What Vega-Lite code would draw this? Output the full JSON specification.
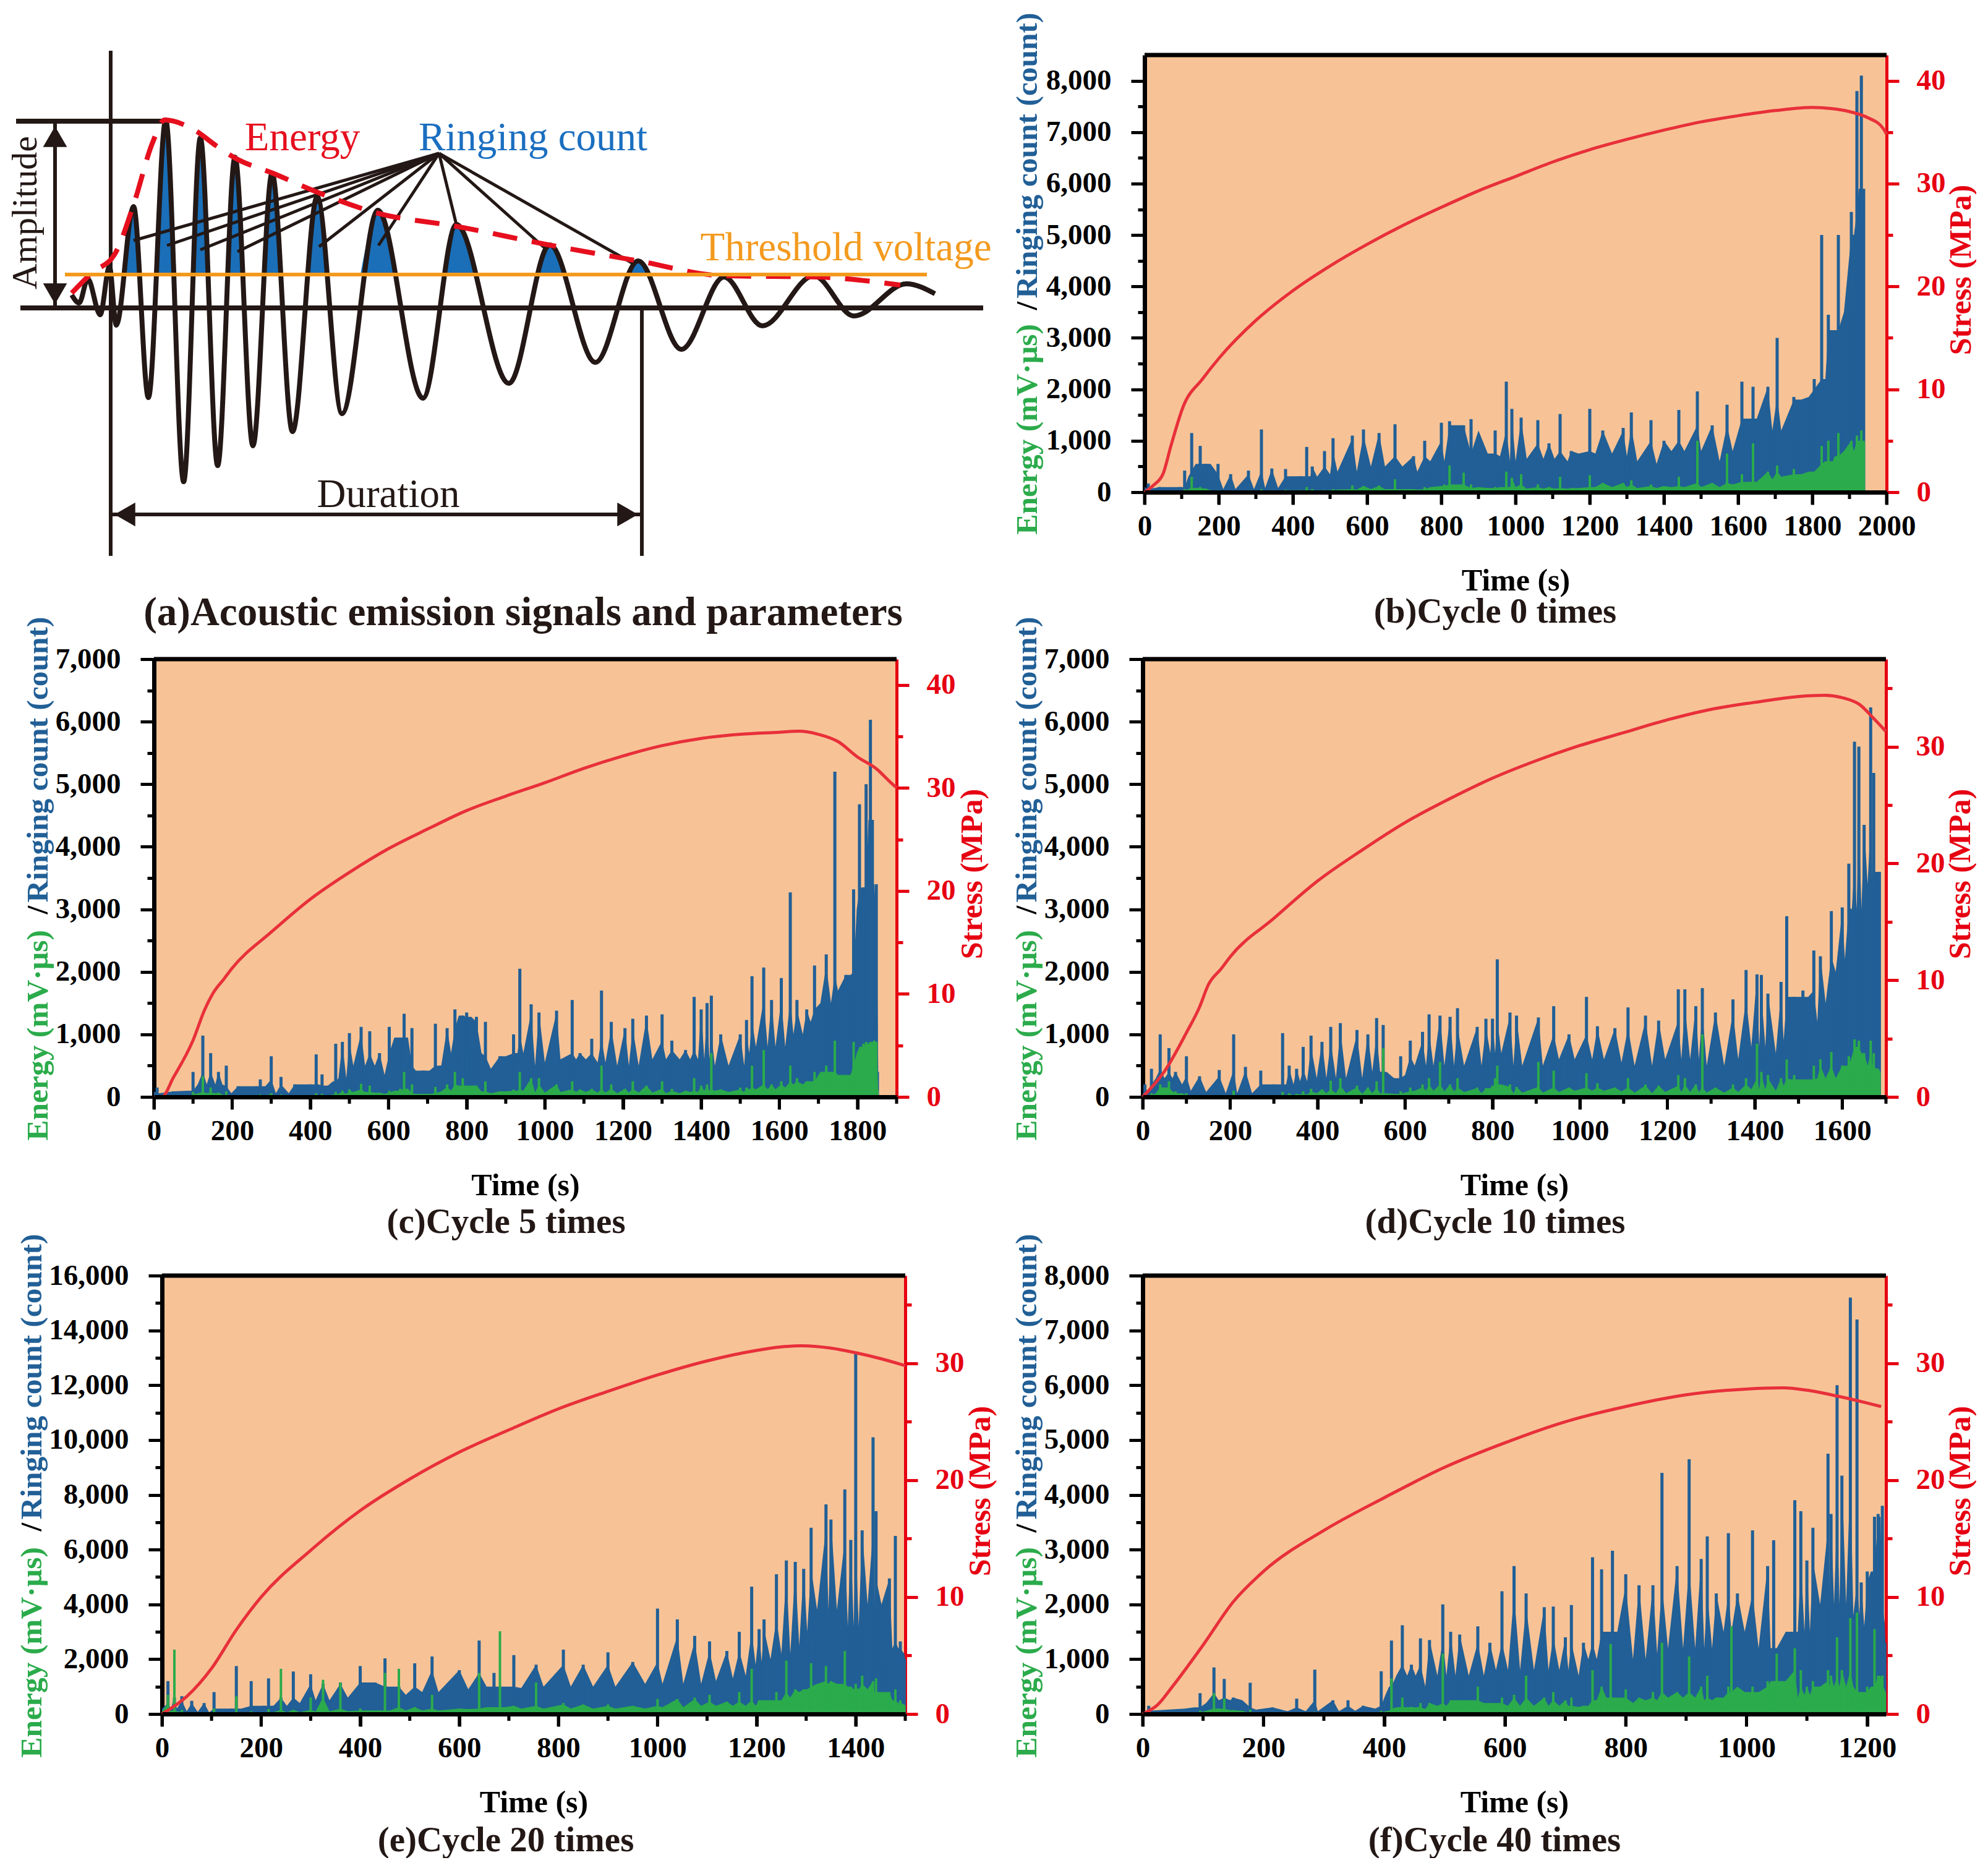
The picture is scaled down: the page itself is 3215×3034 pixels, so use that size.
{
"$schema":"https://vega.github.io/schema/vega-lite/v6.json",
"background":"white",
"padding":{"left":12,"top":19,"right":0,"bottom":0},
"config":{
"view":{"stroke":null},
"font":"Liberation Serif",
"title":{"font":"Liberation Serif","fontWeight":"bold","fontSize":57,"color":"#231815","anchor":"middle","baseline":"top"},
"axis":{"grid":false,"labelFont":"Liberation Serif","titleFont":"Liberation Serif","labelFontWeight":"bold","titleFontWeight":"bold","labelFontSize":47,"titleFontSize":49.5,"labelOverlap":false,"labelFlush":false,"labelBound":false,"labelColor":"#000000","titleColor":"#000000","domainColor":"#000000","tickColor":"#000000","domainWidth":7,"tickWidth":5},
"axisBottom":{"labelPadding":12,"titlePadding":40,"titleFontSize":50},
"axisLeft":{"labelPadding":32},
"axisRight":{"labelPadding":28,"labelColor":"#e60012","titleColor":"#e60012","domainColor":"#e60012","tickColor":"#e60012","domainWidth":5,"titleFontSize":50}
},
"datasets":{
"sig":[{"x":117,"y":478},{"x":129,"y":491},{"x":143,"y":452},{"x":163,"y":510},{"x":178,"y":432},{"x":189,"y":527},{"x":217,"y":335},{"x":241,"y":644},{"x":269,"y":195},{"x":298,"y":780},{"x":325,"y":224},{"x":353,"y":754},{"x":381,"y":255},{"x":410,"y":722},{"x":441,"y":281},{"x":474,"y":699},{"x":514,"y":319},{"x":554,"y":670},{"x":612,"y":341},{"x":685,"y":645},{"x":739,"y":364},{"x":824,"y":621},{"x":890,"y":397},{"x":964,"y":587},{"x":1033,"y":423},{"x":1103,"y":566},{"x":1172,"y":449},{"x":1234,"y":528},{"x":1317,"y":447},{"x":1382,"y":512},{"x":1467,"y":460},{"x":1513,"y":476}],
"env":[{"x":117,"y":475},{"x":150,"y":442},{"x":186,"y":413},{"x":217,"y":332},{"x":248,"y":231},{"x":267,"y":195},{"x":315,"y":211},{"x":351,"y":237},{"x":382,"y":257},{"x":442,"y":281},{"x":517,"y":313},{"x":609,"y":345},{"x":739,"y":367},{"x":888,"y":397},{"x":1033,"y":423},{"x":1172,"y":447},{"x":1322,"y":449},{"x":1457,"y":462}],
"peaks":[{"p":1,"x":201,"y":445},{"p":1,"x":217,"y":340},{"p":1,"x":227,"y":445},{"p":2,"x":256,"y":445},{"p":2,"x":269,"y":200},{"p":2,"x":286,"y":445},{"p":3,"x":315,"y":445},{"p":3,"x":325,"y":228},{"p":3,"x":339,"y":445},{"p":4,"x":370,"y":445},{"p":4,"x":381,"y":258},{"p":4,"x":395,"y":445},{"p":5,"x":430,"y":445},{"p":5,"x":441,"y":285},{"p":5,"x":455,"y":445},{"p":6,"x":501,"y":445},{"p":6,"x":514,"y":322},{"p":6,"x":532,"y":445},{"p":7,"x":584,"y":445},{"p":7,"x":612,"y":345},{"p":7,"x":638,"y":445},{"p":8,"x":718,"y":445},{"p":8,"x":739,"y":368},{"p":8,"x":770,"y":445},{"p":9,"x":868,"y":445},{"p":9,"x":890,"y":400},{"p":9,"x":916,"y":445},{"p":10,"x":1018,"y":445},{"p":10,"x":1033,"y":426},{"p":10,"x":1054,"y":445}],
"frame":[{"x":34,"y":499,"x2":1591,"y2":499},{"x":27,"y":197,"x2":267,"y2":197}],
"guides":[{"x":180,"y":83,"x2":180,"y2":900},{"x":1039,"y":499,"x2":1039,"y2":900},{"x":180,"y":833,"x2":1039,"y2":833},{"x":90,"y":197,"x2":90,"y2":499}],
"hub":[{"x":711,"y":249,"x2":217,"y2":390},{"x":711,"y":249,"x2":271,"y2":398},{"x":711,"y":249,"x2":325,"y2":405},{"x":711,"y":249,"x2":385,"y2":408},{"x":711,"y":249,"x2":517,"y2":400},{"x":711,"y":249,"x2":613,"y2":398},{"x":711,"y":249,"x2":739,"y2":364},{"x":711,"y":249,"x2":883,"y2":403},{"x":711,"y":249,"x2":1028,"y2":429}],
"heads":[{"x":90,"y":222,"d":"up"},{"x":90,"y":476,"d":"down"},{"x":203,"y":833,"d":"left"},{"x":1016,"y":833,"d":"right"}],
"labels":[{"label":"Energy","x":490,"y":224},{"label":"Ringing count","x":863,"y":224},{"label":"Threshold voltage","x":1369,"y":402},{"label":"Duration","x":629,"y":801}],
"major":[{"v":0},{"v":200},{"v":400},{"v":600},{"v":800},{"v":1000},{"v":1200},{"v":1400},{"v":1600},{"v":1800},{"v":2000}],
"minor":[{"v":100},{"v":300},{"v":500},{"v":700},{"v":900},{"v":1100},{"v":1300},{"v":1500},{"v":1700},{"v":1900}],
"b":[{"t":0,"r":0,"e":0},{"t":10,"r":170,"e":10},{"t":40,"r":100,"e":5},{"t":80,"r":20,"e":5},{"t":95,"r":100,"e":30},{"t":108,"r":420,"e":60},{"t":118,"r":60,"e":20},{"t":127,"r":1150,"e":300},{"t":138,"r":300,"e":80},{"t":150,"r":900,"e":100},{"t":165,"r":550,"e":70},{"t":178,"r":60,"e":20},{"t":198,"r":550,"e":40},{"t":212,"r":50,"e":10},{"t":232,"r":350,"e":30},{"t":245,"r":60,"e":10},{"t":280,"r":420,"e":40},{"t":295,"r":60,"e":10},{"t":315,"r":1220,"e":60},{"t":325,"r":30,"e":10},{"t":343,"r":460,"e":40},{"t":360,"r":80,"e":15},{"t":380,"r":450,"e":50},{"t":395,"r":50,"e":10},{"t":420,"r":310,"e":40},{"t":437,"r":880,"e":100},{"t":447,"r":200,"e":40},{"t":452,"r":500,"e":60},{"t":465,"r":150,"e":20},{"t":485,"r":800,"e":40},{"t":500,"r":300,"e":40},{"t":508,"r":1050,"e":60},{"t":520,"r":350,"e":40},{"t":560,"r":1100,"e":130},{"t":572,"r":400,"e":50},{"t":590,"r":1220,"e":120},{"t":610,"r":350,"e":50},{"t":632,"r":1150,"e":130},{"t":648,"r":500,"e":60},{"t":675,"r":1320,"e":250},{"t":695,"r":250,"e":40},{"t":725,"r":700,"e":60},{"t":735,"r":250,"e":40},{"t":755,"r":1000,"e":100},{"t":770,"r":400,"e":50},{"t":800,"r":1350,"e":120},{"t":808,"r":600,"e":150},{"t":822,"r":1380,"e":520},{"t":838,"r":500,"e":80},{"t":860,"r":1300,"e":380},{"t":880,"r":1420,"e":150},{"t":900,"r":750,"e":80},{"t":925,"r":700,"e":80},{"t":945,"r":1200,"e":100},{"t":958,"r":500,"e":60},{"t":975,"r":2150,"e":400},{"t":985,"r":600,"e":100},{"t":990,"r":1620,"e":280},{"t":1000,"r":600,"e":70},{"t":1015,"r":1450,"e":350},{"t":1030,"r":500,"e":50},{"t":1060,"r":1400,"e":150},{"t":1075,"r":650,"e":70},{"t":1090,"r":950,"e":100},{"t":1105,"r":550,"e":70},{"t":1120,"r":1520,"e":300},{"t":1140,"r":600,"e":60},{"t":1150,"r":800,"e":80},{"t":1170,"r":500,"e":50},{"t":1200,"r":1620,"e":330},{"t":1215,"r":750,"e":100},{"t":1235,"r":1200,"e":180},{"t":1260,"r":700,"e":100},{"t":1290,"r":1250,"e":180},{"t":1300,"r":600,"e":80},{"t":1312,"r":1550,"e":230},{"t":1328,"r":450,"e":70},{"t":1365,"r":1400,"e":150},{"t":1380,"r":550,"e":80},{"t":1400,"r":1000,"e":120},{"t":1420,"r":500,"e":70},{"t":1440,"r":1600,"e":300},{"t":1455,"r":800,"e":100},{"t":1490,"r":1960,"e":1000},{"t":1500,"r":600,"e":100},{"t":1530,"r":1300,"e":180},{"t":1550,"r":550,"e":80},{"t":1570,"r":1700,"e":750},{"t":1585,"r":600,"e":100},{"t":1610,"r":2150,"e":350},{"t":1620,"r":800,"e":150},{"t":1630,"r":1430,"e":200},{"t":1640,"r":2050,"e":950},{"t":1650,"r":800,"e":200},{"t":1680,"r":2050,"e":400},{"t":1692,"r":1200,"e":200},{"t":1705,"r":3000,"e":520},{"t":1716,"r":1100,"e":250},{"t":1750,"r":1850,"e":450},{"t":1770,"r":1000,"e":300},{"t":1790,"r":1800,"e":350},{"t":1805,"r":2200,"e":400},{"t":1825,"r":5000,"e":900},{"t":1835,"r":2000,"e":550},{"t":1843,"r":3450,"e":1000},{"t":1855,"r":2000,"e":600},{"t":1860,"r":3150,"e":450},{"t":1870,"r":5000,"e":1150},{"t":1885,"r":2400,"e":700},{"t":1905,"r":5450,"e":1000},{"t":1912,"r":3500,"e":800},{"t":1920,"r":7800,"e":1100},{"t":1925,"r":5000,"e":700},{"t":1932,"r":8100,"e":1200},{"t":1938,"r":5900,"e":1000},{"t":1942,"r":0,"e":0}],
"c":[{"t":0,"r":0,"e":0},{"t":8,"r":150,"e":5},{"t":50,"r":90,"e":5},{"t":85,"r":20,"e":5},{"t":100,"r":400,"e":80},{"t":112,"r":100,"e":40},{"t":125,"r":980,"e":330},{"t":135,"r":200,"e":60},{"t":145,"r":700,"e":150},{"t":157,"r":200,"e":40},{"t":165,"r":400,"e":70},{"t":175,"r":60,"e":20},{"t":185,"r":500,"e":90},{"t":198,"r":60,"e":15},{"t":215,"r":170,"e":25},{"t":240,"r":40,"e":10},{"t":262,"r":170,"e":30},{"t":272,"r":280,"e":40},{"t":285,"r":60,"e":10},{"t":300,"r":650,"e":60},{"t":312,"r":50,"e":10},{"t":325,"r":320,"e":40},{"t":345,"r":60,"e":10},{"t":360,"r":200,"e":20},{"t":380,"r":50,"e":10},{"t":400,"r":200,"e":25},{"t":415,"r":680,"e":60},{"t":422,"r":100,"e":20},{"t":430,"r":360,"e":50},{"t":445,"r":180,"e":20},{"t":458,"r":100,"e":20},{"t":465,"r":850,"e":80},{"t":472,"r":250,"e":40},{"t":482,"r":880,"e":100},{"t":492,"r":300,"e":50},{"t":500,"r":1020,"e":120},{"t":510,"r":300,"e":50},{"t":530,"r":1120,"e":210},{"t":540,"r":500,"e":80},{"t":552,"r":1050,"e":180},{"t":565,"r":350,"e":40},{"t":577,"r":700,"e":70},{"t":590,"r":200,"e":40},{"t":602,"r":1120,"e":100},{"t":615,"r":250,"e":50},{"t":630,"r":950,"e":130},{"t":640,"r":1330,"e":400},{"t":650,"r":500,"e":60},{"t":660,"r":1100,"e":200},{"t":670,"r":200,"e":30},{"t":690,"r":420,"e":50},{"t":705,"r":300,"e":50},{"t":720,"r":1170,"e":160},{"t":735,"r":500,"e":60},{"t":750,"r":1100,"e":200},{"t":760,"r":500,"e":90},{"t":770,"r":1400,"e":400},{"t":780,"r":700,"e":100},{"t":790,"r":1300,"e":300},{"t":800,"r":1350,"e":180},{"t":812,"r":700,"e":90},{"t":825,"r":1280,"e":180},{"t":838,"r":450,"e":60},{"t":848,"r":1200,"e":250},{"t":862,"r":450,"e":60},{"t":885,"r":650,"e":90},{"t":900,"r":400,"e":60},{"t":920,"r":1000,"e":120},{"t":930,"r":700,"e":100},{"t":936,"r":2050,"e":400},{"t":945,"r":500,"e":60},{"t":965,"r":1480,"e":300},{"t":975,"r":450,"e":60},{"t":985,"r":1350,"e":300},{"t":1000,"r":500,"e":70},{"t":1030,"r":1380,"e":200},{"t":1040,"r":550,"e":70},{"t":1070,"r":1550,"e":250},{"t":1080,"r":600,"e":80},{"t":1090,"r":700,"e":120},{"t":1105,"r":350,"e":50},{"t":1120,"r":930,"e":130},{"t":1135,"r":550,"e":70},{"t":1145,"r":1700,"e":500},{"t":1155,"r":500,"e":60},{"t":1170,"r":1200,"e":200},{"t":1185,"r":450,"e":50},{"t":1205,"r":1100,"e":130},{"t":1215,"r":450,"e":50},{"t":1225,"r":1250,"e":250},{"t":1240,"r":500,"e":70},{"t":1260,"r":1300,"e":180},{"t":1275,"r":300,"e":50},{"t":1300,"r":1320,"e":250},{"t":1310,"r":600,"e":60},{"t":1325,"r":900,"e":130},{"t":1345,"r":450,"e":60},{"t":1360,"r":750,"e":100},{"t":1372,"r":500,"e":60},{"t":1382,"r":1600,"e":300},{"t":1392,"r":600,"e":80},{"t":1400,"r":1400,"e":180},{"t":1408,"r":600,"e":80},{"t":1415,"r":1500,"e":200},{"t":1421,"r":500,"e":100},{"t":1426,"r":1620,"e":700},{"t":1435,"r":500,"e":70},{"t":1450,"r":1000,"e":120},{"t":1470,"r":400,"e":60},{"t":1500,"r":1000,"e":150},{"t":1510,"r":500,"e":80},{"t":1516,"r":1230,"e":150},{"t":1523,"r":500,"e":70},{"t":1530,"r":1930,"e":500},{"t":1540,"r":700,"e":120},{"t":1560,"r":2070,"e":750},{"t":1570,"r":800,"e":120},{"t":1580,"r":1550,"e":200},{"t":1590,"r":700,"e":100},{"t":1605,"r":1900,"e":250},{"t":1615,"r":700,"e":100},{"t":1628,"r":3270,"e":500},{"t":1636,"r":800,"e":150},{"t":1645,"r":1550,"e":300},{"t":1660,"r":1000,"e":200},{"t":1670,"r":1400,"e":250},{"t":1680,"r":1000,"e":200},{"t":1690,"r":2100,"e":400},{"t":1705,"r":1200,"e":250},{"t":1720,"r":2280,"e":500},{"t":1732,"r":1500,"e":400},{"t":1742,"r":5200,"e":900},{"t":1750,"r":1300,"e":300},{"t":1770,"r":1950,"e":350},{"t":1782,"r":1700,"e":300},{"t":1790,"r":3320,"e":880},{"t":1798,"r":2000,"e":500},{"t":1805,"r":4680,"e":700},{"t":1811,"r":3000,"e":800},{"t":1815,"r":3350,"e":850},{"t":1822,"r":5000,"e":880},{"t":1828,"r":3000,"e":700},{"t":1833,"r":6030,"e":880},{"t":1838,"r":4430,"e":850},{"t":1843,"r":2800,"e":900},{"t":1848,"r":3400,"e":880},{"t":1851,"r":400,"e":100},{"t":1853,"r":0,"e":0}],
"d":[{"t":0,"r":0,"e":0},{"t":5,"r":200,"e":30},{"t":12,"r":50,"e":10},{"t":20,"r":450,"e":60},{"t":30,"r":100,"e":20},{"t":40,"r":1000,"e":200},{"t":50,"r":300,"e":150},{"t":60,"r":780,"e":250},{"t":68,"r":200,"e":60},{"t":75,"r":400,"e":90},{"t":90,"r":100,"e":30},{"t":100,"r":650,"e":60},{"t":110,"r":80,"e":20},{"t":130,"r":330,"e":30},{"t":145,"r":50,"e":10},{"t":175,"r":430,"e":30},{"t":190,"r":40,"e":10},{"t":208,"r":1000,"e":100},{"t":216,"r":60,"e":15},{"t":235,"r":480,"e":30},{"t":250,"r":60,"e":10},{"t":270,"r":420,"e":30},{"t":285,"r":40,"e":10},{"t":300,"r":200,"e":20},{"t":320,"r":1020,"e":80},{"t":328,"r":150,"e":30},{"t":335,"r":500,"e":60},{"t":345,"r":120,"e":20},{"t":352,"r":450,"e":50},{"t":360,"r":200,"e":30},{"t":367,"r":800,"e":90},{"t":376,"r":250,"e":40},{"t":385,"r":980,"e":130},{"t":398,"r":250,"e":40},{"t":410,"r":880,"e":120},{"t":420,"r":300,"e":60},{"t":430,"r":1120,"e":260},{"t":442,"r":300,"e":60},{"t":452,"r":1180,"e":300},{"t":465,"r":200,"e":40},{"t":490,"r":1070,"e":180},{"t":502,"r":300,"e":50},{"t":515,"r":1000,"e":150},{"t":525,"r":300,"e":50},{"t":535,"r":1260,"e":250},{"t":543,"r":400,"e":60},{"t":550,"r":1150,"e":780},{"t":558,"r":100,"e":30},{"t":575,"r":300,"e":50},{"t":590,"r":650,"e":90},{"t":600,"r":200,"e":40},{"t":612,"r":900,"e":150},{"t":622,"r":350,"e":70},{"t":640,"r":1040,"e":200},{"t":648,"r":500,"e":100},{"t":655,"r":1320,"e":300},{"t":665,"r":400,"e":80},{"t":680,"r":1300,"e":560},{"t":690,"r":500,"e":90},{"t":703,"r":1280,"e":200},{"t":712,"r":500,"e":80},{"t":720,"r":1420,"e":300},{"t":735,"r":400,"e":60},{"t":765,"r":1120,"e":150},{"t":775,"r":400,"e":60},{"t":785,"r":1250,"e":140},{"t":795,"r":500,"e":60},{"t":800,"r":1250,"e":180},{"t":806,"r":700,"e":300},{"t":811,"r":2200,"e":500},{"t":820,"r":400,"e":60},{"t":840,"r":1350,"e":200},{"t":848,"r":500,"e":60},{"t":855,"r":1300,"e":160},{"t":868,"r":450,"e":50},{"t":905,"r":1270,"e":560},{"t":915,"r":500,"e":70},{"t":940,"r":1450,"e":420},{"t":952,"r":500,"e":60},{"t":975,"r":1000,"e":150},{"t":988,"r":600,"e":80},{"t":1015,"r":1600,"e":380},{"t":1028,"r":600,"e":100},{"t":1040,"r":1130,"e":220},{"t":1055,"r":550,"e":90},{"t":1080,"r":1100,"e":150},{"t":1095,"r":500,"e":70},{"t":1110,"r":1430,"e":300},{"t":1125,"r":500,"e":60},{"t":1150,"r":1300,"e":200},{"t":1165,"r":450,"e":50},{"t":1180,"r":1220,"e":180},{"t":1195,"r":500,"e":60},{"t":1225,"r":1720,"e":350},{"t":1232,"r":600,"e":80},{"t":1240,"r":1720,"e":300},{"t":1252,"r":600,"e":80},{"t":1265,"r":1450,"e":200},{"t":1272,"r":500,"e":70},{"t":1280,"r":1740,"e":1000},{"t":1290,"r":350,"e":60},{"t":1310,"r":1350,"e":150},{"t":1330,"r":450,"e":60},{"t":1350,"r":1560,"e":200},{"t":1362,"r":500,"e":70},{"t":1380,"r":2030,"e":300},{"t":1392,"r":600,"e":80},{"t":1405,"r":1960,"e":850},{"t":1410,"r":800,"e":120},{"t":1415,"r":1950,"e":400},{"t":1424,"r":700,"e":100},{"t":1430,"r":1650,"e":350},{"t":1448,"r":600,"e":100},{"t":1460,"r":1840,"e":300},{"t":1466,"r":500,"e":80},{"t":1473,"r":2890,"e":600},{"t":1482,"r":900,"e":180},{"t":1490,"r":1600,"e":350},{"t":1510,"r":1700,"e":280},{"t":1522,"r":1000,"e":200},{"t":1535,"r":2340,"e":500},{"t":1543,"r":1100,"e":250},{"t":1550,"r":2250,"e":600},{"t":1562,"r":1200,"e":300},{"t":1575,"r":2970,"e":720},{"t":1585,"r":1500,"e":200},{"t":1600,"r":3030,"e":500},{"t":1606,"r":2000,"e":300},{"t":1615,"r":3730,"e":650},{"t":1622,"r":2200,"e":500},{"t":1628,"r":5680,"e":920},{"t":1633,"r":3000,"e":800},{"t":1638,"r":5600,"e":900},{"t":1644,"r":2800,"e":500},{"t":1650,"r":4350,"e":700},{"t":1658,"r":3000,"e":500},{"t":1665,"r":6230,"e":900},{"t":1669,"r":3400,"e":500},{"t":1672,"r":5180,"e":700},{"t":1678,"r":3400,"e":450},{"t":1682,"r":3600,"e":450},{"t":1685,"r":3600,"e":400},{"t":1687,"r":0,"e":0}],
"e":[{"t":0,"r":0,"e":0},{"t":12,"r":1200,"e":700},{"t":18,"r":200,"e":100},{"t":25,"r":600,"e":2350},{"t":30,"r":100,"e":60},{"t":40,"r":650,"e":150},{"t":50,"r":80,"e":30},{"t":60,"r":480,"e":60},{"t":72,"r":60,"e":20},{"t":85,"r":400,"e":50},{"t":95,"r":50,"e":10},{"t":105,"r":800,"e":200},{"t":112,"r":50,"e":10},{"t":140,"r":200,"e":40},{"t":150,"r":1750,"e":650},{"t":160,"r":80,"e":20},{"t":180,"r":1200,"e":100},{"t":190,"r":60,"e":20},{"t":205,"r":300,"e":70},{"t":215,"r":1300,"e":180},{"t":225,"r":300,"e":60},{"t":240,"r":600,"e":1650},{"t":252,"r":300,"e":60},{"t":265,"r":1550,"e":150},{"t":278,"r":250,"e":50},{"t":300,"r":1450,"e":600},{"t":310,"r":400,"e":70},{"t":325,"r":1100,"e":1250},{"t":338,"r":500,"e":90},{"t":360,"r":1150,"e":1150},{"t":375,"r":500,"e":100},{"t":400,"r":1750,"e":200},{"t":412,"r":600,"e":100},{"t":430,"r":1150,"e":130},{"t":450,"r":2030,"e":1500},{"t":460,"r":500,"e":100},{"t":478,"r":1000,"e":1650},{"t":492,"r":600,"e":130},{"t":510,"r":1850,"e":250},{"t":525,"r":700,"e":130},{"t":545,"r":2100,"e":700},{"t":558,"r":800,"e":130},{"t":600,"r":1600,"e":200},{"t":618,"r":800,"e":130},{"t":640,"r":2680,"e":1500},{"t":655,"r":900,"e":180},{"t":670,"r":1500,"e":250},{"t":682,"r":1000,"e":3020},{"t":692,"r":500,"e":130},{"t":710,"r":2150,"e":300},{"t":725,"r":950,"e":200},{"t":755,"r":1800,"e":1150},{"t":770,"r":950,"e":180},{"t":810,"r":2350,"e":400},{"t":825,"r":1000,"e":200},{"t":850,"r":1800,"e":350},{"t":870,"r":900,"e":200},{"t":900,"r":2250,"e":350},{"t":915,"r":1000,"e":180},{"t":950,"r":1900,"e":300},{"t":975,"r":1000,"e":200},{"t":1000,"r":3850,"e":550},{"t":1010,"r":1100,"e":200},{"t":1040,"r":3450,"e":550},{"t":1052,"r":1100,"e":250},{"t":1075,"r":2850,"e":600},{"t":1088,"r":1100,"e":250},{"t":1105,"r":2650,"e":700},{"t":1118,"r":1100,"e":300},{"t":1140,"r":2300,"e":450},{"t":1152,"r":1200,"e":300},{"t":1165,"r":3000,"e":800},{"t":1178,"r":1300,"e":250},{"t":1190,"r":4650,"e":1650},{"t":1198,"r":1400,"e":300},{"t":1205,"r":3100,"e":500},{"t":1210,"r":1800,"e":300},{"t":1215,"r":3450,"e":500},{"t":1228,"r":1900,"e":500},{"t":1240,"r":5100,"e":800},{"t":1250,"r":2000,"e":500},{"t":1260,"r":5600,"e":1950},{"t":1268,"r":2200,"e":500},{"t":1278,"r":5550,"e":900},{"t":1286,"r":2200,"e":600},{"t":1295,"r":5300,"e":900},{"t":1302,"r":2500,"e":800},{"t":1310,"r":6800,"e":1850},{"t":1322,"r":3000,"e":1000},{"t":1340,"r":7650,"e":1750},{"t":1345,"r":3800,"e":1100},{"t":1350,"r":7100,"e":1200},{"t":1362,"r":3000,"e":1100},{"t":1378,"r":8200,"e":2300},{"t":1384,"r":3000,"e":900},{"t":1390,"r":6350,"e":1000},{"t":1396,"r":3200,"e":700},{"t":1400,"r":13150,"e":1100},{"t":1406,"r":3000,"e":900},{"t":1413,"r":6700,"e":1400},{"t":1424,"r":2600,"e":700},{"t":1435,"r":10100,"e":1200},{"t":1438,"r":4000,"e":800},{"t":1441,"r":7400,"e":1300},{"t":1452,"r":2000,"e":500},{"t":1468,"r":4950,"e":800},{"t":1474,"r":2000,"e":400},{"t":1480,"r":6500,"e":900},{"t":1486,"r":2400,"e":400},{"t":1490,"r":2650,"e":500},{"t":1498,"r":2000,"e":300},{"t":1500,"r":0,"e":0}],
"f":[{"t":0,"r":0,"e":0},{"t":10,"r":150,"e":5},{"t":70,"r":20,"e":5},{"t":85,"r":100,"e":20},{"t":95,"r":380,"e":60},{"t":105,"r":120,"e":30},{"t":118,"r":850,"e":380},{"t":126,"r":200,"e":100},{"t":135,"r":640,"e":280},{"t":145,"r":250,"e":60},{"t":150,"r":300,"e":70},{"t":165,"r":80,"e":20},{"t":178,"r":570,"e":80},{"t":188,"r":50,"e":10},{"t":215,"r":120,"e":15},{"t":240,"r":50,"e":10},{"t":255,"r":280,"e":25},{"t":270,"r":50,"e":10},{"t":285,"r":810,"e":40},{"t":290,"r":40,"e":10},{"t":315,"r":250,"e":20},{"t":325,"r":50,"e":10},{"t":340,"r":250,"e":20},{"t":352,"r":40,"e":10},{"t":365,"r":150,"e":15},{"t":385,"r":60,"e":10},{"t":395,"r":780,"e":60},{"t":402,"r":100,"e":20},{"t":408,"r":350,"e":50},{"t":412,"r":1340,"e":650},{"t":420,"r":500,"e":100},{"t":430,"r":1620,"e":300},{"t":438,"r":700,"e":120},{"t":445,"r":900,"e":130},{"t":452,"r":400,"e":80},{"t":460,"r":1380,"e":200},{"t":468,"r":500,"e":90},{"t":475,"r":1350,"e":200},{"t":488,"r":400,"e":80},{"t":497,"r":2000,"e":1100},{"t":503,"r":700,"e":150},{"t":510,"r":1500,"e":250},{"t":518,"r":600,"e":120},{"t":525,"r":1450,"e":250},{"t":540,"r":600,"e":250},{"t":555,"r":1600,"e":500},{"t":565,"r":700,"e":200},{"t":575,"r":1300,"e":200},{"t":585,"r":700,"e":120},{"t":595,"r":2240,"e":300},{"t":605,"r":800,"e":150},{"t":615,"r":2700,"e":350},{"t":625,"r":700,"e":120},{"t":635,"r":2200,"e":700},{"t":648,"r":800,"e":150},{"t":665,"r":1950,"e":300},{"t":672,"r":700,"e":120},{"t":680,"r":1960,"e":400},{"t":690,"r":800,"e":150},{"t":700,"r":1400,"e":250},{"t":705,"r":700,"e":130},{"t":710,"r":1990,"e":300},{"t":722,"r":500,"e":100},{"t":730,"r":1300,"e":150},{"t":738,"r":400,"e":100},{"t":745,"r":2860,"e":800},{"t":752,"r":1000,"e":250},{"t":760,"r":2640,"e":500},{"t":768,"r":1000,"e":200},{"t":775,"r":1500,"e":1280},{"t":778,"r":2980,"e":300},{"t":786,"r":900,"e":150},{"t":800,"r":2550,"e":450},{"t":812,"r":1000,"e":200},{"t":822,"r":2350,"e":300},{"t":833,"r":900,"e":200},{"t":845,"r":2350,"e":400},{"t":852,"r":1000,"e":250},{"t":860,"r":4400,"e":1300},{"t":870,"r":1100,"e":250},{"t":885,"r":2700,"e":400},{"t":895,"r":1200,"e":300},{"t":905,"r":4650,"e":1050},{"t":915,"r":1200,"e":250},{"t":925,"r":2830,"e":500},{"t":930,"r":1200,"e":250},{"t":935,"r":3240,"e":700},{"t":943,"r":1200,"e":200},{"t":950,"r":2200,"e":300},{"t":962,"r":1200,"e":250},{"t":970,"r":3300,"e":500},{"t":975,"r":1500,"e":1600},{"t":985,"r":2200,"e":400},{"t":997,"r":1000,"e":200},{"t":1010,"r":3350,"e":500},{"t":1020,"r":1100,"e":250},{"t":1035,"r":2700,"e":600},{"t":1040,"r":1200,"e":400},{"t":1045,"r":3170,"e":600},{"t":1050,"r":1200,"e":1100},{"t":1065,"r":1200,"e":300},{"t":1080,"r":3900,"e":1200},{"t":1085,"r":1500,"e":300},{"t":1090,"r":3700,"e":800},{"t":1096,"r":1500,"e":300},{"t":1100,"r":2800,"e":500},{"t":1105,"r":1400,"e":350},{"t":1110,"r":3400,"e":600},{"t":1122,"r":1300,"e":300},{"t":1135,"r":4750,"e":800},{"t":1138,"r":2000,"e":500},{"t":1140,"r":3650,"e":700},{"t":1145,"r":1500,"e":400},{"t":1150,"r":6000,"e":1400},{"t":1154,"r":2000,"e":500},{"t":1158,"r":4350,"e":800},{"t":1165,"r":1800,"e":500},{"t":1172,"r":7600,"e":1750},{"t":1177,"r":1800,"e":400},{"t":1183,"r":7200,"e":1850},{"t":1187,"r":1600,"e":400},{"t":1190,"r":2400,"e":400},{"t":1195,"r":1300,"e":300},{"t":1200,"r":2600,"e":500},{"t":1206,"r":1500,"e":400},{"t":1212,"r":3600,"e":1550},{"t":1218,"r":3650,"e":700},{"t":1222,"r":2000,"e":500},{"t":1225,"r":3800,"e":700},{"t":1229,"r":1300,"e":400},{"t":1230,"r":0,"e":0}],
"bs":[{"t":0,"s":0},{"t":25,"s":0.7},{"t":50,"s":1.8},{"t":71,"s":4.5},{"t":105,"s":8.4},{"t":156,"s":11},{"t":200,"s":13},{"t":300,"s":16.7},{"t":400,"s":19.6},{"t":500,"s":22},{"t":600,"s":24.1},{"t":700,"s":26},{"t":800,"s":27.7},{"t":900,"s":29.3},{"t":1000,"s":30.7},{"t":1100,"s":32.1},{"t":1200,"s":33.3},{"t":1300,"s":34.3},{"t":1400,"s":35.2},{"t":1500,"s":36},{"t":1600,"s":36.6},{"t":1700,"s":37.1},{"t":1800,"s":37.4},{"t":1850,"s":37.3},{"t":1900,"s":37},{"t":1950,"s":36.4},{"t":1990,"s":35.4},{"t":2000,"s":34.8}],
"cs":[{"t":0,"s":0},{"t":20,"s":0},{"t":50,"s":1.9},{"t":100,"s":5.5},{"t":130,"s":8.5},{"t":150,"s":10},{"t":180,"s":11.5},{"t":200,"s":12.5},{"t":300,"s":16},{"t":400,"s":19.2},{"t":500,"s":21.8},{"t":600,"s":24.1},{"t":700,"s":26},{"t":800,"s":27.8},{"t":900,"s":29.2},{"t":1000,"s":30.5},{"t":1100,"s":31.9},{"t":1200,"s":33.1},{"t":1300,"s":34.1},{"t":1400,"s":34.8},{"t":1500,"s":35.2},{"t":1600,"s":35.4},{"t":1650,"s":35.5},{"t":1700,"s":35.2},{"t":1750,"s":34.5},{"t":1800,"s":33},{"t":1850,"s":31.8},{"t":1880,"s":30.7},{"t":1900,"s":30}],
"ds":[{"t":0,"s":0},{"t":50,"s":2.2},{"t":100,"s":5.5},{"t":130,"s":7.7},{"t":150,"s":9.6},{"t":180,"s":11},{"t":200,"s":12},{"t":300,"s":15.3},{"t":400,"s":18.5},{"t":500,"s":21.1},{"t":600,"s":23.5},{"t":700,"s":25.5},{"t":800,"s":27.3},{"t":900,"s":28.8},{"t":1000,"s":30.1},{"t":1100,"s":31.2},{"t":1200,"s":32.3},{"t":1300,"s":33.2},{"t":1400,"s":33.8},{"t":1500,"s":34.3},{"t":1560,"s":34.4},{"t":1600,"s":34.2},{"t":1640,"s":33.6},{"t":1670,"s":32.5},{"t":1700,"s":31.3}],
"es":[{"t":0,"s":0},{"t":50,"s":1.5},{"t":100,"s":3.9},{"t":150,"s":7.2},{"t":200,"s":10},{"t":300,"s":14},{"t":400,"s":17.4},{"t":500,"s":20.1},{"t":600,"s":22.4},{"t":700,"s":24.3},{"t":800,"s":26.1},{"t":900,"s":27.6},{"t":1000,"s":29},{"t":1100,"s":30.2},{"t":1200,"s":31.1},{"t":1250,"s":31.4},{"t":1290,"s":31.5},{"t":1350,"s":31.3},{"t":1400,"s":30.9},{"t":1450,"s":30.4},{"t":1500,"s":29.8}],
"fs":[{"t":0,"s":0},{"t":25,"s":0.8},{"t":50,"s":2.4},{"t":100,"s":5.9},{"t":150,"s":9.6},{"t":200,"s":12.2},{"t":300,"s":15.7},{"t":400,"s":18.5},{"t":500,"s":21.1},{"t":600,"s":23.2},{"t":700,"s":25},{"t":800,"s":26.3},{"t":900,"s":27.3},{"t":1000,"s":27.8},{"t":1060,"s":27.9},{"t":1100,"s":27.7},{"t":1150,"s":27.2},{"t":1200,"s":26.6},{"t":1223,"s":26.3}]
},
"spacing":-28,
"vconcat":[
{"hconcat":[
{"width":1602,"height":707,
"title":{"text":"(a)Acoustic emission signals and parameters","orient":"bottom","dx":-204,"offset":58,"fontSize":65},
"encoding":{"x":{"field":"x","type":"quantitative","axis":null,"scale":{"domain":[250,1852]}},"y":{"field":"y","type":"quantitative","axis":null,"scale":{"domain":[797,90]}}},
"layer":[
{"data":{"name":"peaks"},"mark":{"type":"area","color":"#1a6fb8","interpolate":"monotone"},"encoding":{"detail":{"field":"p"},"y2":{"datum":445}}},
{"data":{"name":"sig"},"mark":{"type":"line","color":"#231815","strokeWidth":8,"interpolate":"monotone"}},
{"data":{"name":"hub"},"mark":{"type":"rule","color":"#231815","strokeWidth":5},"encoding":{"x2":{"field":"x2"},"y2":{"field":"y2"}}},
{"data":{"name":"guides"},"mark":{"type":"rule","color":"#231815","strokeWidth":6},"encoding":{"x2":{"field":"x2"},"y2":{"field":"y2"}}},
{"data":{"name":"frame"},"mark":{"type":"rule","color":"#231815","strokeWidth":8},"encoding":{"x2":{"field":"x2"},"y2":{"field":"y2"}}},
{"data":{"name":"env"},"mark":{"type":"line","color":"#e60f1e","strokeWidth":8,"strokeDash":[40,24],"interpolate":"monotone"}},
{"data":{"values":[{"x":106,"x2":1500,"y":445}]},"mark":{"type":"rule","color":"#f39a1e","strokeWidth":6},"encoding":{"x2":{"field":"x2"}}},
{"data":{"name":"heads"},"mark":{"type":"point","filled":true,"color":"#231815","opacity":1,"size":1500},"encoding":{"shape":{"field":"d","type":"nominal","legend":null,"scale":{"domain":["up","down","left","right"],"range":["triangle-up","triangle-down","triangle-left","triangle-right"]}}}},
{"data":{"name":"labels"},"mark":{"type":"text","fontSize":65,"font":"Liberation Serif","align":"center","baseline":"middle"},"encoding":{"text":{"field":"label"},"color":{"field":"label","type":"nominal","legend":null,"scale":{"domain":["Energy","Ringing count","Threshold voltage","Duration"],"range":["#e60f1e","#1b6fc0","#f39a1e","#231815"]}}}},
{"data":{"values":[{"label":"Amplitude","x":43,"y":345}]},"mark":{"type":"text","fontSize":58,"font":"Liberation Serif","align":"center","baseline":"middle","angle":270,"color":"#231815"},"encoding":{"text":{"field":"label"}}}
]},
{"width":1200,"height":707,"view":{"fill":"#f7c396"},
"title":{"text":"(b)Cycle 0 times","orient":"bottom","dx":-33,"offset":-2},
"resolve":{"scale":{"y":"independent"},"axis":{"y":"independent","x":"independent"}},
"layer":[
{"data":{"name":"b"},"transform":[{"window":[{"op":"median","field":"r","as":"rb"}],"frame":[-2,2],"sort":[{"field":"t"}]}],"mark":{"type":"area","color":"#215f96"},"encoding":{"x":{"field":"t","type":"quantitative","title":"Time (s)","scale":{"domain":[0,2000],"nice":false},"axis":{"orient":"bottom","values":[0,200,400,600,800,1000,1200,1400,1600,1800,2000],"format":"d","tickSize":20,"zindex":1}},"y":{"field":"rb","type":"quantitative","scale":{"domain":[0,8500]},"axis":{"orient":"left","values":[0,500,1000,1500,2000,2500,3000,3500,4000,4500,5000,5500,6000,6500,7000,7500,8000],"labelExpr":"datum.value % 1000 === 0 ? format(datum.value, ',') : ''","tickSize":{"condition":{"test":"datum.value % 1000 === 0","value":22},"value":11},"title":"Ringing count (count)","titleColor":"#215f96","titleX":-190,"titleY":393,"titleAlign":"left","titleAngle":270,"titleBaseline":"middle"}}}},
{"data":{"name":"b"},"mark":{"type":"rule","color":"#215f96","strokeWidth":5},"encoding":{"x":{"field":"t","type":"quantitative","axis":null,"scale":{"domain":[0,2000],"nice":false}},"y":{"field":"r","type":"quantitative","scale":{"domain":[0,8500]},"axis":null},"y2":{"datum":0}}},
{"data":{"name":"b"},"transform":[{"window":[{"op":"median","field":"e","as":"eb"}],"frame":[-2,2],"sort":[{"field":"t"}]}],"mark":{"type":"area","color":"#2bab4b"},"encoding":{"x":{"field":"t","type":"quantitative","axis":null,"scale":{"domain":[0,2000],"nice":false}},"y":{"field":"eb","type":"quantitative","scale":{"domain":[0,8500]},"axis":{"orient":"left","labels":false,"ticks":false,"domain":false,"title":"Energy (mV·µs)","titleColor":"#2bab4b","titleX":-190,"titleY":775,"titleAlign":"left","titleAngle":270,"titleBaseline":"middle"}}}},
{"data":{"name":"b"},"mark":{"type":"rule","color":"#2bab4b","strokeWidth":4},"encoding":{"x":{"field":"t","type":"quantitative","axis":null,"scale":{"domain":[0,2000],"nice":false}},"y":{"field":"e","type":"quantitative","scale":{"domain":[0,8500]},"axis":null},"y2":{"datum":0}}},
{"data":{"name":"major"},"transform":[{"filter":"datum.v <= 2000"}],"mark":{"type":"rule","color":"#000000","strokeWidth":5},"encoding":{"x":{"field":"v","type":"quantitative","axis":null,"scale":{"domain":[0,2000],"nice":false}},"y":{"datum":0,"type":"quantitative","scale":{"domain":[0,8500]},"axis":null},"y2":{"datum":-240}}},
{"data":{"name":"minor"},"transform":[{"filter":"datum.v <= 2000"}],"mark":{"type":"rule","color":"#000000","strokeWidth":5},"encoding":{"x":{"field":"v","type":"quantitative","axis":null,"scale":{"domain":[0,2000],"nice":false}},"y":{"datum":0,"type":"quantitative","scale":{"domain":[0,8500]},"axis":null},"y2":{"datum":-132}}},
{"data":{"values":[{}]},"mark":{"type":"rule","color":"#000000","strokeWidth":7},"encoding":{"y":{"datum":8500,"type":"quantitative","scale":{"domain":[0,8500]},"axis":{"orient":"left","labels":false,"ticks":false,"domain":false,"title":"/","titleX":-190,"titleY":412,"titleAlign":"left","titleAngle":270,"titleBaseline":"middle"}}}},
{"data":{"name":"bs"},"mark":{"type":"line","color":"#e8303a","strokeWidth":5,"interpolate":"monotone"},"encoding":{"x":{"field":"t","type":"quantitative","axis":null,"scale":{"domain":[0,2000],"nice":false}},"y":{"field":"s","type":"quantitative","scale":{"domain":[0,42.5]},"axis":{"orient":"right","values":[0,5,10,15,20,25,30,35,40],"labelExpr":"datum.value % 10 === 0 ? datum.value : ''","tickSize":{"condition":{"test":"datum.value % 10 === 0","value":20},"value":10},"title":"Stress (MPa)","titleX":120,"titleY":347,"titleAngle":270,"titleAlign":"center","titleBaseline":"middle"}}}}
]}
],"spacing":0,"bounds":"flush"},
{"spacing":-11,"vconcat":[
{"hconcat":[
{"width":1201,"height":708,"view":{"fill":"#f7c396"},
"title":{"text":"(c)Cycle 5 times","orient":"bottom","dx":-31,"offset":7},
"resolve":{"scale":{"y":"independent"},"axis":{"y":"independent","x":"independent"}},
"layer":[
{"data":{"name":"c"},"transform":[{"window":[{"op":"median","field":"r","as":"rb"}],"frame":[-2,2],"sort":[{"field":"t"}]}],"mark":{"type":"area","color":"#215f96"},"encoding":{"x":{"field":"t","type":"quantitative","title":"Time (s)","scale":{"domain":[0,1900],"nice":false},"axis":{"orient":"bottom","values":[0,200,400,600,800,1000,1200,1400,1600,1800],"format":"d","tickSize":20,"zindex":1}},"y":{"field":"rb","type":"quantitative","scale":{"domain":[0,7000]},"axis":{"orient":"left","values":[0,500,1000,1500,2000,2500,3000,3500,4000,4500,5000,5500,6000,6500,7000],"labelExpr":"datum.value % 1000 === 0 ? format(datum.value, ',') : ''","tickSize":{"condition":{"test":"datum.value % 1000 === 0","value":22},"value":11},"title":"Ringing count (count)","titleColor":"#215f96","titleX":-188,"titleY":393,"titleAlign":"left","titleAngle":270,"titleBaseline":"middle"}}}},
{"data":{"name":"c"},"mark":{"type":"rule","color":"#215f96","strokeWidth":5},"encoding":{"x":{"field":"t","type":"quantitative","axis":null,"scale":{"domain":[0,1900],"nice":false}},"y":{"field":"r","type":"quantitative","scale":{"domain":[0,7000]},"axis":null},"y2":{"datum":0}}},
{"data":{"name":"c"},"transform":[{"window":[{"op":"median","field":"e","as":"eb"}],"frame":[-2,2],"sort":[{"field":"t"}]}],"mark":{"type":"area","color":"#2bab4b"},"encoding":{"x":{"field":"t","type":"quantitative","axis":null,"scale":{"domain":[0,1900],"nice":false}},"y":{"field":"eb","type":"quantitative","scale":{"domain":[0,7000]},"axis":{"orient":"left","labels":false,"ticks":false,"domain":false,"title":"Energy (mV·µs)","titleColor":"#2bab4b","titleX":-188,"titleY":778,"titleAlign":"left","titleAngle":270,"titleBaseline":"middle"}}}},
{"data":{"name":"c"},"mark":{"type":"rule","color":"#2bab4b","strokeWidth":4},"encoding":{"x":{"field":"t","type":"quantitative","axis":null,"scale":{"domain":[0,1900],"nice":false}},"y":{"field":"e","type":"quantitative","scale":{"domain":[0,7000]},"axis":null},"y2":{"datum":0}}},
{"data":{"name":"major"},"transform":[{"filter":"datum.v <= 1900"}],"mark":{"type":"rule","color":"#000000","strokeWidth":5},"encoding":{"x":{"field":"v","type":"quantitative","axis":null,"scale":{"domain":[0,1900],"nice":false}},"y":{"datum":0,"type":"quantitative","scale":{"domain":[0,7000]},"axis":null},"y2":{"datum":-198}}},
{"data":{"name":"minor"},"transform":[{"filter":"datum.v <= 1900"}],"mark":{"type":"rule","color":"#000000","strokeWidth":5},"encoding":{"x":{"field":"v","type":"quantitative","axis":null,"scale":{"domain":[0,1900],"nice":false}},"y":{"datum":0,"type":"quantitative","scale":{"domain":[0,7000]},"axis":null},"y2":{"datum":-109}}},
{"data":{"values":[{}]},"mark":{"type":"rule","color":"#000000","strokeWidth":7},"encoding":{"y":{"datum":7000,"type":"quantitative","scale":{"domain":[0,7000]},"axis":{"orient":"left","labels":false,"ticks":false,"domain":false,"title":"/","titleX":-188,"titleY":412,"titleAlign":"left","titleAngle":270,"titleBaseline":"middle"}}}},
{"data":{"name":"cs"},"mark":{"type":"line","color":"#e8303a","strokeWidth":5,"interpolate":"monotone"},"encoding":{"x":{"field":"t","type":"quantitative","axis":null,"scale":{"domain":[0,1900],"nice":false}},"y":{"field":"s","type":"quantitative","scale":{"domain":[0,42.5]},"axis":{"orient":"right","values":[0,5,10,15,20,25,30,35,40],"labelExpr":"datum.value % 10 === 0 ? datum.value : ''","tickSize":{"condition":{"test":"datum.value % 10 === 0","value":20},"value":10},"title":"Stress (MPa)","titleX":122,"titleY":347,"titleAngle":270,"titleAlign":"center","titleBaseline":"middle"}}}}
]},
{"width":1202,"height":708,"view":{"fill":"#f7c396"},
"title":{"text":"(d)Cycle 10 times","orient":"bottom","dx":-31,"offset":7},
"resolve":{"scale":{"y":"independent"},"axis":{"y":"independent","x":"independent"}},
"layer":[
{"data":{"name":"d"},"transform":[{"window":[{"op":"median","field":"r","as":"rb"}],"frame":[-2,2],"sort":[{"field":"t"}]}],"mark":{"type":"area","color":"#215f96"},"encoding":{"x":{"field":"t","type":"quantitative","title":"Time (s)","scale":{"domain":[0,1700],"nice":false},"axis":{"orient":"bottom","values":[0,200,400,600,800,1000,1200,1400,1600],"format":"d","tickSize":20,"zindex":1}},"y":{"field":"rb","type":"quantitative","scale":{"domain":[0,7000]},"axis":{"orient":"left","values":[0,500,1000,1500,2000,2500,3000,3500,4000,4500,5000,5500,6000,6500,7000],"labelExpr":"datum.value % 1000 === 0 ? format(datum.value, ',') : ''","tickSize":{"condition":{"test":"datum.value % 1000 === 0","value":22},"value":11},"title":"Ringing count (count)","titleColor":"#215f96","titleX":-188,"titleY":393,"titleAlign":"left","titleAngle":270,"titleBaseline":"middle"}}}},
{"data":{"name":"d"},"mark":{"type":"rule","color":"#215f96","strokeWidth":5},"encoding":{"x":{"field":"t","type":"quantitative","axis":null,"scale":{"domain":[0,1700],"nice":false}},"y":{"field":"r","type":"quantitative","scale":{"domain":[0,7000]},"axis":null},"y2":{"datum":0}}},
{"data":{"name":"d"},"transform":[{"window":[{"op":"median","field":"e","as":"eb"}],"frame":[-2,2],"sort":[{"field":"t"}]}],"mark":{"type":"area","color":"#2bab4b"},"encoding":{"x":{"field":"t","type":"quantitative","axis":null,"scale":{"domain":[0,1700],"nice":false}},"y":{"field":"eb","type":"quantitative","scale":{"domain":[0,7000]},"axis":{"orient":"left","labels":false,"ticks":false,"domain":false,"title":"Energy (mV·µs)","titleColor":"#2bab4b","titleX":-188,"titleY":778,"titleAlign":"left","titleAngle":270,"titleBaseline":"middle"}}}},
{"data":{"name":"d"},"mark":{"type":"rule","color":"#2bab4b","strokeWidth":4},"encoding":{"x":{"field":"t","type":"quantitative","axis":null,"scale":{"domain":[0,1700],"nice":false}},"y":{"field":"e","type":"quantitative","scale":{"domain":[0,7000]},"axis":null},"y2":{"datum":0}}},
{"data":{"name":"major"},"transform":[{"filter":"datum.v <= 1700"}],"mark":{"type":"rule","color":"#000000","strokeWidth":5},"encoding":{"x":{"field":"v","type":"quantitative","axis":null,"scale":{"domain":[0,1700],"nice":false}},"y":{"datum":0,"type":"quantitative","scale":{"domain":[0,7000]},"axis":null},"y2":{"datum":-198}}},
{"data":{"name":"minor"},"transform":[{"filter":"datum.v <= 1700"}],"mark":{"type":"rule","color":"#000000","strokeWidth":5},"encoding":{"x":{"field":"v","type":"quantitative","axis":null,"scale":{"domain":[0,1700],"nice":false}},"y":{"datum":0,"type":"quantitative","scale":{"domain":[0,7000]},"axis":null},"y2":{"datum":-109}}},
{"data":{"values":[{}]},"mark":{"type":"rule","color":"#000000","strokeWidth":7},"encoding":{"y":{"datum":7000,"type":"quantitative","scale":{"domain":[0,7000]},"axis":{"orient":"left","labels":false,"ticks":false,"domain":false,"title":"/","titleX":-188,"titleY":412,"titleAlign":"left","titleAngle":270,"titleBaseline":"middle"}}}},
{"data":{"name":"ds"},"mark":{"type":"line","color":"#e8303a","strokeWidth":5,"interpolate":"monotone"},"encoding":{"x":{"field":"t","type":"quantitative","axis":null,"scale":{"domain":[0,1700],"nice":false}},"y":{"field":"s","type":"quantitative","scale":{"domain":[0,37.5]},"axis":{"orient":"right","values":[0,5,10,15,20,25,30,35],"labelExpr":"datum.value % 10 === 0 ? datum.value : ''","tickSize":{"condition":{"test":"datum.value % 10 === 0","value":20},"value":10},"title":"Stress (MPa)","titleX":120,"titleY":347,"titleAngle":270,"titleAlign":"center","titleBaseline":"middle"}}}}
]}
],"spacing":398,"bounds":"flush"},
{"hconcat":[
{"width":13,"height":709,"data":{"values":[]},"mark":{"type":"point","opacity":0},"encoding":{}},
{"width":1202,"height":709,"view":{"fill":"#f7c396"},
"title":{"text":"(e)Cycle 20 times","orient":"bottom","dx":-45,"offset":9},
"resolve":{"scale":{"y":"independent"},"axis":{"y":"independent","x":"independent"}},
"layer":[
{"data":{"name":"e"},"transform":[{"window":[{"op":"median","field":"r","as":"rb"}],"frame":[-2,2],"sort":[{"field":"t"}]}],"mark":{"type":"area","color":"#215f96"},"encoding":{"x":{"field":"t","type":"quantitative","title":"Time (s)","scale":{"domain":[0,1500],"nice":false},"axis":{"orient":"bottom","values":[0,200,400,600,800,1000,1200,1400],"format":"d","tickSize":20,"zindex":1}},"y":{"field":"rb","type":"quantitative","scale":{"domain":[0,16000]},"axis":{"orient":"left","values":[0,1000,2000,3000,4000,5000,6000,7000,8000,9000,10000,11000,12000,13000,14000,15000,16000],"labelExpr":"datum.value % 2000 === 0 ? format(datum.value, ',') : ''","tickSize":{"condition":{"test":"datum.value % 2000 === 0","value":22},"value":11},"title":"Ringing count (count)","titleColor":"#215f96","titleX":-211,"titleY":394,"titleAlign":"left","titleAngle":270,"titleBaseline":"middle"}}}},
{"data":{"name":"e"},"mark":{"type":"rule","color":"#215f96","strokeWidth":5},"encoding":{"x":{"field":"t","type":"quantitative","axis":null,"scale":{"domain":[0,1500],"nice":false}},"y":{"field":"r","type":"quantitative","scale":{"domain":[0,16000]},"axis":null},"y2":{"datum":0}}},
{"data":{"name":"e"},"transform":[{"window":[{"op":"median","field":"e","as":"eb"}],"frame":[-2,2],"sort":[{"field":"t"}]}],"mark":{"type":"area","color":"#2bab4b"},"encoding":{"x":{"field":"t","type":"quantitative","axis":null,"scale":{"domain":[0,1500],"nice":false}},"y":{"field":"eb","type":"quantitative","scale":{"domain":[0,16000]},"axis":{"orient":"left","labels":false,"ticks":false,"domain":false,"title":"Energy (mV·µs)","titleColor":"#2bab4b","titleX":-211,"titleY":779,"titleAlign":"left","titleAngle":270,"titleBaseline":"middle"}}}},
{"data":{"name":"e"},"mark":{"type":"rule","color":"#2bab4b","strokeWidth":4},"encoding":{"x":{"field":"t","type":"quantitative","axis":null,"scale":{"domain":[0,1500],"nice":false}},"y":{"field":"e","type":"quantitative","scale":{"domain":[0,16000]},"axis":null},"y2":{"datum":0}}},
{"data":{"name":"major"},"transform":[{"filter":"datum.v <= 1500"}],"mark":{"type":"rule","color":"#000000","strokeWidth":5},"encoding":{"x":{"field":"v","type":"quantitative","axis":null,"scale":{"domain":[0,1500],"nice":false}},"y":{"datum":0,"type":"quantitative","scale":{"domain":[0,16000]},"axis":null},"y2":{"datum":-451}}},
{"data":{"name":"minor"},"transform":[{"filter":"datum.v <= 1500"}],"mark":{"type":"rule","color":"#000000","strokeWidth":5},"encoding":{"x":{"field":"v","type":"quantitative","axis":null,"scale":{"domain":[0,1500],"nice":false}},"y":{"datum":0,"type":"quantitative","scale":{"domain":[0,16000]},"axis":null},"y2":{"datum":-248}}},
{"data":{"values":[{}]},"mark":{"type":"rule","color":"#000000","strokeWidth":7},"encoding":{"y":{"datum":16000,"type":"quantitative","scale":{"domain":[0,16000]},"axis":{"orient":"left","labels":false,"ticks":false,"domain":false,"title":"/","titleX":-211,"titleY":413,"titleAlign":"left","titleAngle":270,"titleBaseline":"middle"}}}},
{"data":{"name":"es"},"mark":{"type":"line","color":"#e8303a","strokeWidth":5,"interpolate":"monotone"},"encoding":{"x":{"field":"t","type":"quantitative","axis":null,"scale":{"domain":[0,1500],"nice":false}},"y":{"field":"s","type":"quantitative","scale":{"domain":[0,37.5]},"axis":{"orient":"right","values":[0,5,10,15,20,25,30,35],"labelExpr":"datum.value % 10 === 0 ? datum.value : ''","tickSize":{"condition":{"test":"datum.value % 10 === 0","value":20},"value":10},"title":"Stress (MPa)","titleX":121,"titleY":348,"titleAngle":270,"titleAlign":"center","titleBaseline":"middle"}}}}
]},
{"width":384,"height":709,"data":{"values":[]},"mark":{"type":"point","opacity":0},"encoding":{}},
{"width":1202,"height":709,"view":{"fill":"#f7c396"},
"title":{"text":"(f)Cycle 40 times","orient":"bottom","dx":-32,"offset":9},
"resolve":{"scale":{"y":"independent"},"axis":{"y":"independent","x":"independent"}},
"layer":[
{"data":{"name":"f"},"transform":[{"window":[{"op":"median","field":"r","as":"rb"}],"frame":[-2,2],"sort":[{"field":"t"}]}],"mark":{"type":"area","color":"#215f96"},"encoding":{"x":{"field":"t","type":"quantitative","title":"Time (s)","scale":{"domain":[0,1231],"nice":false},"axis":{"orient":"bottom","values":[0,200,400,600,800,1000,1200],"format":"d","tickSize":20,"zindex":1}},"y":{"field":"rb","type":"quantitative","scale":{"domain":[0,8000]},"axis":{"orient":"left","values":[0,500,1000,1500,2000,2500,3000,3500,4000,4500,5000,5500,6000,6500,7000,7500,8000],"labelExpr":"datum.value % 1000 === 0 ? format(datum.value, ',') : ''","tickSize":{"condition":{"test":"datum.value % 1000 === 0","value":22},"value":11},"title":"Ringing count (count)","titleColor":"#215f96","titleX":-188,"titleY":394,"titleAlign":"left","titleAngle":270,"titleBaseline":"middle"}}}},
{"data":{"name":"f"},"mark":{"type":"rule","color":"#215f96","strokeWidth":5},"encoding":{"x":{"field":"t","type":"quantitative","axis":null,"scale":{"domain":[0,1231],"nice":false}},"y":{"field":"r","type":"quantitative","scale":{"domain":[0,8000]},"axis":null},"y2":{"datum":0}}},
{"data":{"name":"f"},"transform":[{"window":[{"op":"median","field":"e","as":"eb"}],"frame":[-2,2],"sort":[{"field":"t"}]}],"mark":{"type":"area","color":"#2bab4b"},"encoding":{"x":{"field":"t","type":"quantitative","axis":null,"scale":{"domain":[0,1231],"nice":false}},"y":{"field":"eb","type":"quantitative","scale":{"domain":[0,8000]},"axis":{"orient":"left","labels":false,"ticks":false,"domain":false,"title":"Energy (mV·µs)","titleColor":"#2bab4b","titleX":-188,"titleY":779,"titleAlign":"left","titleAngle":270,"titleBaseline":"middle"}}}},
{"data":{"name":"f"},"mark":{"type":"rule","color":"#2bab4b","strokeWidth":4},"encoding":{"x":{"field":"t","type":"quantitative","axis":null,"scale":{"domain":[0,1231],"nice":false}},"y":{"field":"e","type":"quantitative","scale":{"domain":[0,8000]},"axis":null},"y2":{"datum":0}}},
{"data":{"name":"major"},"transform":[{"filter":"datum.v <= 1231"}],"mark":{"type":"rule","color":"#000000","strokeWidth":5},"encoding":{"x":{"field":"v","type":"quantitative","axis":null,"scale":{"domain":[0,1231],"nice":false}},"y":{"datum":0,"type":"quantitative","scale":{"domain":[0,8000]},"axis":null},"y2":{"datum":-226}}},
{"data":{"name":"minor"},"transform":[{"filter":"datum.v <= 1231"}],"mark":{"type":"rule","color":"#000000","strokeWidth":5},"encoding":{"x":{"field":"v","type":"quantitative","axis":null,"scale":{"domain":[0,1231],"nice":false}},"y":{"datum":0,"type":"quantitative","scale":{"domain":[0,8000]},"axis":null},"y2":{"datum":-124}}},
{"data":{"values":[{}]},"mark":{"type":"rule","color":"#000000","strokeWidth":7},"encoding":{"y":{"datum":8000,"type":"quantitative","scale":{"domain":[0,8000]},"axis":{"orient":"left","labels":false,"ticks":false,"domain":false,"title":"/","titleX":-188,"titleY":415,"titleAlign":"left","titleAngle":270,"titleBaseline":"middle"}}}},
{"data":{"name":"fs"},"mark":{"type":"line","color":"#e8303a","strokeWidth":5,"interpolate":"monotone"},"encoding":{"x":{"field":"t","type":"quantitative","axis":null,"scale":{"domain":[0,1231],"nice":false}},"y":{"field":"s","type":"quantitative","scale":{"domain":[0,37.5]},"axis":{"orient":"right","values":[0,5,10,15,20,25,30,35],"labelExpr":"datum.value % 10 === 0 ? datum.value : ''","tickSize":{"condition":{"test":"datum.value % 10 === 0","value":20},"value":10},"title":"Stress (MPa)","titleX":120,"titleY":348,"titleAngle":270,"titleAlign":"center","titleBaseline":"middle"}}}}
]}
],"spacing":0,"bounds":"flush"}
]}
]
}
